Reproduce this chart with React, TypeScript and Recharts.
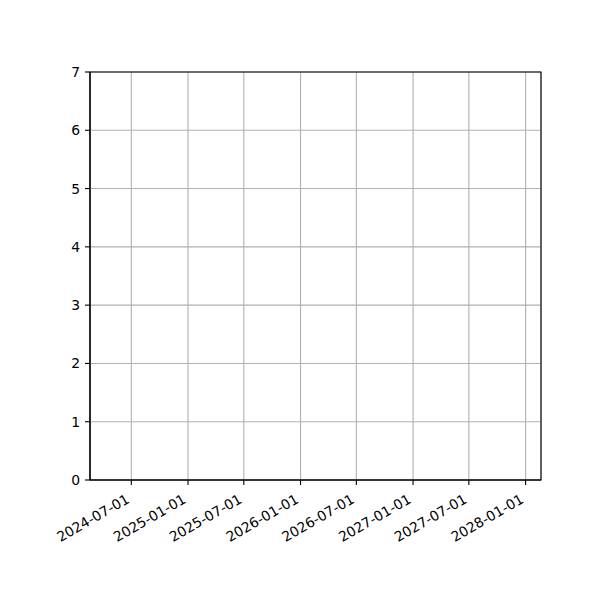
import React from 'react';
import { ScatterChart, Scatter, XAxis, YAxis, CartesianGrid, ReferenceArea } from 'recharts';

// ---- data (the reference plot contains no visible marks) ----
const xTickLabels: string[] = [
  '2024-07-01', '2025-01-01', '2025-07-01', '2026-01-01',
  '2026-07-01', '2027-01-01', '2027-07-01', '2028-01-01',
];
const yTicks: number[] = [0, 1, 2, 3, 4, 5, 6, 7];
const xRange: string[] = ['2024-02-18', '2028-02-20'];
const yRange: number[] = [0, 7];
const seriesDates: string[] = [];
const seriesValues: number[] = [];

const toMs = (s: string) => Date.parse(s + 'T00:00:00Z');
const data = seriesDates.map((d, i) => ({ x: toMs(d), y: seriesValues[i] }));
const xTicks = xTickLabels.map(toMs);
const xDomain = [toMs(xRange[0]), toMs(xRange[1])];

const FONT = '"DejaVu Sans", sans-serif';
const FS = 13.9;

const DateTick = (props: any) => {
  const { x, y, payload } = props;
  const label = new Date(payload.value).toISOString().slice(0, 10);
  const ex = x - 1;
  const ey = y + 12;
  return (
    <text
      x={ex}
      y={ey}
      textAnchor="end"
      fontFamily={FONT}
      fontSize={FS}
      fill="#000"
      transform={`rotate(-30, ${ex}, ${ey})`}
    >
      {label}
    </text>
  );
};

export default function App() {
  return (
    <div style={{ position: 'absolute', left: 0, top: 0, width: 600, height: 600, background: '#fff' }}>
      <ScatterChart width={600} height={600} margin={{ top: 72, right: 59, bottom: 0, left: 0 }}>
        <CartesianGrid stroke="#b0b0b0" strokeWidth={1.1} horizontal vertical />
        <XAxis
          dataKey="x"
          type="number"
          domain={xDomain}
          ticks={xTicks}
          allowDataOverflow
          height={120}
          tickSize={5}
          tickMargin={5}
          axisLine={{ stroke: '#000', strokeWidth: 1.1 }}
          tickLine={{ stroke: '#000', strokeWidth: 1.1 }}
          tick={<DateTick />}
          interval={0}
        />
        <YAxis
          dataKey="y"
          type="number"
          domain={yRange}
          ticks={yTicks}
          allowDataOverflow
          width={90}
          tickSize={5}
          tickMargin={5}
          axisLine={{ stroke: '#000', strokeWidth: 1.1 }}
          tickLine={{ stroke: '#000', strokeWidth: 1.1 }}
          tick={{ fontFamily: FONT, fontSize: FS, fill: '#000' }}
          interval={0}
        />
        <ReferenceArea
          x1={xDomain[0]}
          x2={xDomain[1]}
          y1={yRange[0]}
          y2={yRange[1]}
          fill="none"
          fillOpacity={0}
          stroke="#000"
          strokeWidth={1.1}
          ifOverflow="visible"
        />
        <Scatter data={data} fill="#1f77b4" isAnimationActive={false} />
      </ScatterChart>
    </div>
  );
}
